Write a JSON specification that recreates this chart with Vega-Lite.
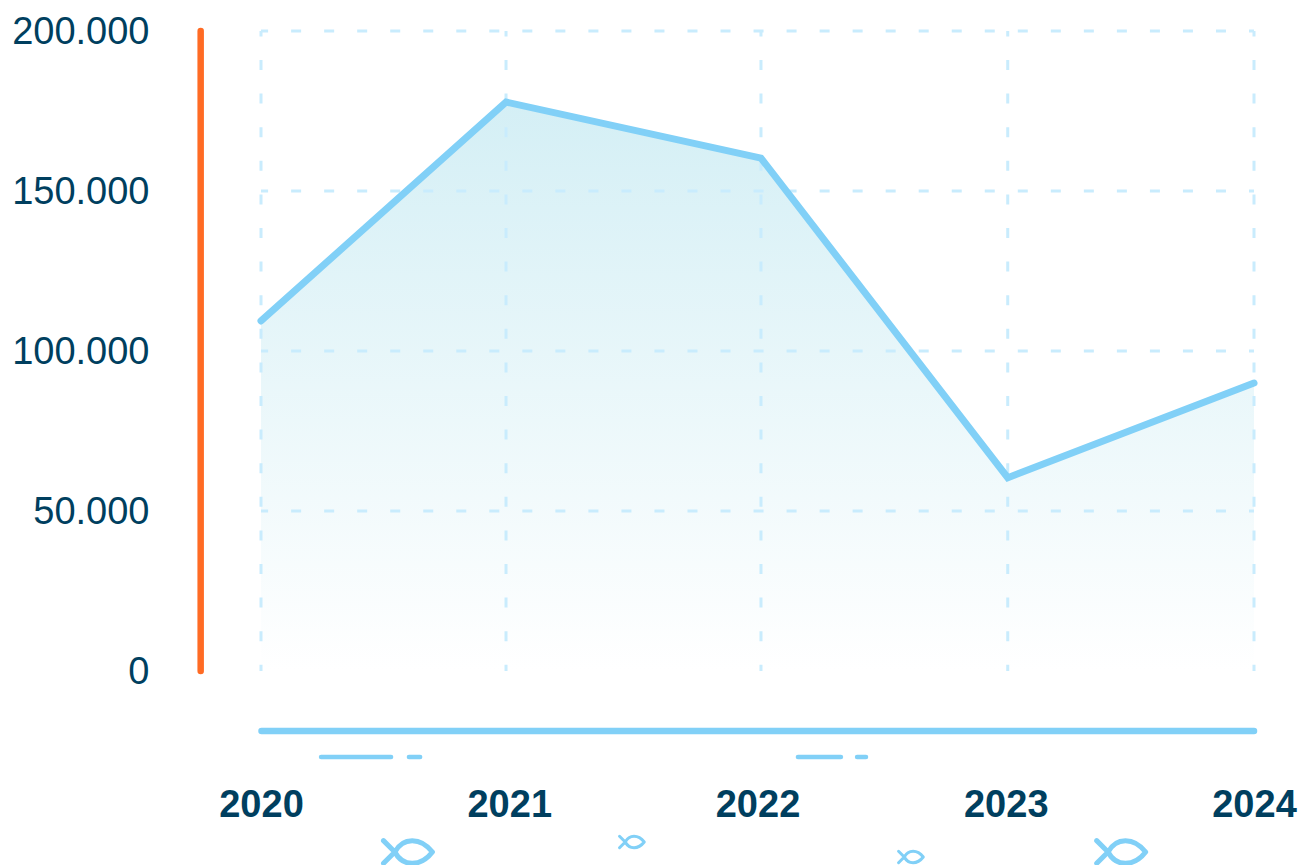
{"$schema":"https://vega.github.io/schema/vega-lite/v6.json","autosize":"none","width":993,"height":640,"padding":{"left":261,"top":31,"right":49,"bottom":194},"background":"white","config":{"view":{"stroke":null},"font":"Liberation Sans"},"datasets":{"series":[{"year":2020,"value":109400},{"year":2020.987,"value":177800},{"year":2022.014,"value":160300},{"year":2023.008,"value":60400},{"year":2024,"value":90000}],"hgrid":[{"value":50000},{"value":100000},{"value":150000},{"value":200000}]},"layer":[{"data":{"name":"series"},"mark":{"type":"area","clip":false,"color":{"gradient":"linear","x1":0,"x2":0,"y1":1,"y2":0,"stops":[{"offset":0,"color":"#ffffff"},{"offset":1,"color":"#d4eff5"}]}},"encoding":{"x":{"field":"year","type":"quantitative","scale":{"domain":[2020,2024],"nice":false,"zero":false},"axis":{"values":[2020,2021,2022,2023,2024],"format":"d","grid":false,"ticks":false,"domain":false,"title":null,"labelFont":"Liberation Sans","labelFontSize":38,"labelFontWeight":"bold","labelColor":"#003f5f","labelPadding":115,"labelOverlap":false,"labelFlush":false,"labelBound":false}},"y":{"field":"value","type":"quantitative","scale":{"domain":[0,200000],"nice":false},"axis":{"values":[0,50000,100000,150000,200000],"labelExpr":"replace(format(datum.value,','),',','.')","grid":false,"ticks":false,"domain":false,"title":null,"labelFont":"Liberation Sans","labelFontSize":38,"labelColor":"#003f5f","labelPadding":112,"labelOffset":1,"labelOverlap":false,"labelBound":false,"labelFlush":false}}}},{"data":{"name":"hgrid"},"mark":{"type":"rule","color":"#c9ecfd","strokeWidth":3,"strokeDash":[10,23.03],"strokeDashOffset":5},"encoding":{"y":{"field":"value","type":"quantitative"}}},{"data":{"name":"series"},"mark":{"type":"rule","color":"#c9ecfd","strokeWidth":3,"strokeDash":[10,23.6],"strokeDashOffset":4.6},"encoding":{"x":{"field":"year","type":"quantitative"}}},{"data":{"name":"series"},"mark":{"type":"line","color":"#81d0f7","strokeWidth":7,"strokeCap":"round","strokeJoin":"miter","clip":false},"encoding":{"x":{"field":"year","type":"quantitative"},"y":{"field":"value","type":"quantitative"}}},{"data":{"values":[{"x":2019.757,"y":0,"y2":200000}]},"mark":{"type":"rule","color":"#ff6b24","strokeWidth":6.5,"strokeCap":"round"},"encoding":{"x":{"field":"x","type":"quantitative"},"y":{"field":"y","type":"quantitative"},"y2":{"field":"y2"}}},{"data":{"values":[{"x":2020.002,"x2":2024,"y":-18750}]},"mark":{"type":"rule","color":"#81d0f7","strokeWidth":6.5,"strokeCap":"round"},"encoding":{"x":{"field":"x","type":"quantitative"},"x2":{"field":"x2"},"y":{"field":"y","type":"quantitative"}}},{"data":{"values":[{"x":2020.242,"x2":2020.524,"y":-26875},{"x":2020.596,"x2":2020.641,"y":-26875},{"x":2022.163,"x2":2022.336,"y":-26875},{"x":2022.401,"x2":2022.437,"y":-26875}]},"mark":{"type":"rule","color":"#81d0f7","strokeWidth":4.5,"strokeCap":"round"},"encoding":{"x":{"field":"x","type":"quantitative"},"x2":{"field":"x2"},"y":{"field":"y","type":"quantitative"}}},{"data":{"values":[{"x":2020.592,"y":-56562},{"x":2023.465,"y":-56562}]},"mark":{"type":"point","filled":false,"clip":false,"color":"#81d0f7","opacity":1,"strokeWidth":5,"strokeCap":"round","strokeJoin":"round","size":2550,"shape":"M-0.97,-0.45 L-0.52,0 C-0.2,0.6 0.5,0.6 0.97,0 C0.5,-0.6 -0.2,-0.6 -0.52,0 L-0.97,0.45"},"encoding":{"x":{"field":"x","type":"quantitative"},"y":{"field":"y","type":"quantitative"}}},{"data":{"values":[{"x":2021.494,"y":-53437},{"x":2022.618,"y":-58125}]},"mark":{"type":"point","filled":false,"clip":false,"color":"#81d0f7","opacity":1,"strokeWidth":3,"strokeCap":"round","strokeJoin":"round","size":650,"shape":"M-0.97,-0.45 L-0.52,0 C-0.2,0.6 0.5,0.6 0.97,0 C0.5,-0.6 -0.2,-0.6 -0.52,0 L-0.97,0.45"},"encoding":{"x":{"field":"x","type":"quantitative"},"y":{"field":"y","type":"quantitative"}}}]}
